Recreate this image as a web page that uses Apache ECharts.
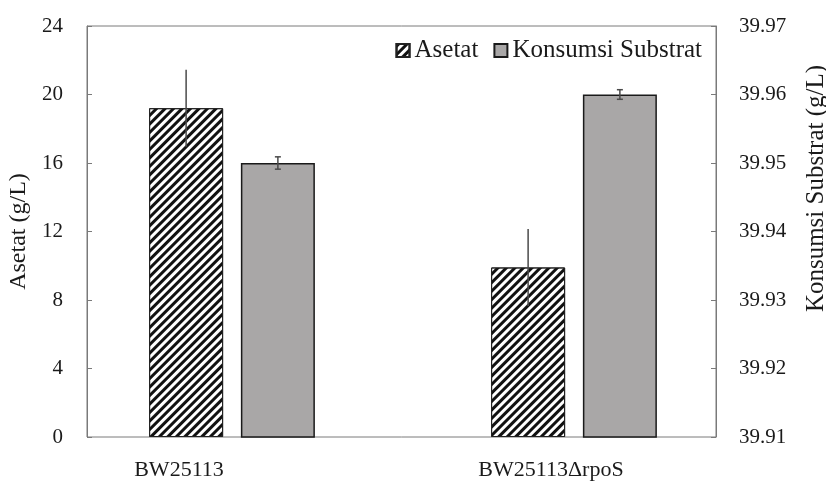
<!DOCTYPE html>
<html>
<head>
<meta charset="utf-8">
<script src="https://cdn.jsdelivr.net/npm/echarts@6/dist/echarts.min.js"></script>
<style>html,body{margin:0;padding:0;background:#fff}#c{width:826px;height:481px}</style>
</head>
<body>
<div id="c"></div>
<script>
const categories = ['BW25113', 'BW25113\u0394rpoS'];
const seriesNames = ['Asetat', 'Konsumsi Substrat'];
const asetat = [19.2, 9.9];
const asetatErr = [2.25, 2.25];
const konsumsi = [39.95, 39.96];
const konsumsiErr = [0.0009, 0.0007];
const leftAxis = { min: 0, max: 24, interval: 4 };
const rightAxis = { min: 39.91, max: 39.97, interval: 0.01 };

const FONT = 'Liberation Serif';
const BAR_W = 74;
const GAP_RATIO = 0.24;
const PLOT_TOP = 26, PLOT_BOTTOM = 44;

function errData(vals, errs) {
  return vals.map((v, i) => [i, v - errs[i], v + errs[i]]);
}
function errRender(sign, cap) {
  return function (params, api) {
    const i = api.value(0);
    const top = api.coord([i, api.value(2)]);
    const bot = api.coord([i, api.value(1)]);
    const x = top[0] + sign * (BAR_W + BAR_W * GAP_RATIO) / 2;
    const style = { stroke: '#4a4a4a', lineWidth: 1.5 };
    const children = [{ type: 'line', shape: { x1: x, y1: top[1], x2: x, y2: bot[1] }, style }];
    if (cap > 0) {
      children.push({ type: 'line', shape: { x1: x - cap / 2, y1: top[1], x2: x + cap / 2, y2: top[1] }, style });
      children.push({ type: 'line', shape: { x1: x - cap / 2, y1: bot[1], x2: x + cap / 2, y2: bot[1] }, style });
    }
    return { type: 'group', children };
  };
}
const hiddenAxis = { axisLine: { show: false }, axisTick: { show: false }, axisLabel: { show: false }, splitLine: { show: false } };

const chart = echarts.init(document.getElementById('c'));
chart.setOption({
  backgroundColor: '#fff',
  animation: false,
  textStyle: { fontFamily: FONT },
  legend: {
    data: seriesNames,
    right: 119, top: 33,
    itemWidth: 13, itemHeight: 13, itemGap: 15,
    icon: 'rect',
    textStyle: { fontFamily: FONT, fontSize: 25, color: '#1a1a1a' }
  },
  grid: [
    { left: 87, right: 110, top: PLOT_TOP, bottom: PLOT_BOTTOM, show: true, borderColor: '#7a7a7a', borderWidth: 1, outerBoundsMode: 'none' },
    { left: -7, right: 89, top: PLOT_TOP, bottom: PLOT_BOTTOM, outerBoundsMode: 'none' },
    { left: 61, right: 81, top: PLOT_TOP, bottom: PLOT_BOTTOM, outerBoundsMode: 'none' }
  ],
  xAxis: [
    Object.assign({ type: 'category', gridIndex: 0, data: categories }, hiddenAxis),
    { type: 'category', gridIndex: 1, data: categories,
      axisLine: { show: false }, axisTick: { show: false },
      axisLabel: { interval: 0, margin: 22, fontFamily: FONT, fontSize: 22, color: '#1a1a1a' } },
    Object.assign({ type: 'category', gridIndex: 2, data: categories }, hiddenAxis)
  ],
  yAxis: [
    { type: 'value', gridIndex: 0, position: 'left', min: leftAxis.min, max: leftAxis.max, interval: leftAxis.interval,
      name: 'Asetat (g/L)', nameLocation: 'middle', nameGap: 53,
      nameTextStyle: { fontFamily: FONT, fontSize: 24, color: '#1a1a1a' },
      axisLine: { show: true, lineStyle: { color: '#7a7a7a' } },
      axisTick: { show: true, inside: true, length: 5, lineStyle: { color: '#7a7a7a' } },
      axisLabel: { margin: 24, fontFamily: FONT, fontSize: 21, color: '#1a1a1a' },
      splitLine: { show: false } },
    { type: 'value', gridIndex: 0, position: 'right', min: rightAxis.min, max: rightAxis.max, interval: rightAxis.interval,
      name: 'Konsumsi Substrat (g/L)', nameLocation: 'middle', nameGap: 88,
      nameTextStyle: { fontFamily: FONT, fontSize: 25, color: '#1a1a1a', padding: [0, 0, 0, 86] },
      axisLine: { show: true, lineStyle: { color: '#7a7a7a' } },
      axisTick: { show: true, inside: true, length: 5, lineStyle: { color: '#7a7a7a' } },
      axisLabel: { margin: 23, fontFamily: FONT, fontSize: 21, color: '#1a1a1a', formatter: v => v.toFixed(2) },
      splitLine: { show: false } },
    Object.assign({ type: 'value', gridIndex: 1, min: leftAxis.min, max: leftAxis.max, interval: leftAxis.interval }, hiddenAxis),
    Object.assign({ type: 'value', gridIndex: 2, min: leftAxis.min, max: leftAxis.max, interval: leftAxis.interval }, hiddenAxis),
    Object.assign({ type: 'value', gridIndex: 2, min: rightAxis.min, max: rightAxis.max, interval: rightAxis.interval }, hiddenAxis)
  ],
  series: [
    { name: seriesNames[0], type: 'bar', xAxisIndex: 2, yAxisIndex: 3, data: asetat,
      barWidth: BAR_W, barGap: (GAP_RATIO * 100) + '%',
      itemStyle: { color: '#ffffff', borderColor: '#222', borderWidth: 1,
        decal: { symbol: 'rect', symbolSize: 1, dashArrayX: [1, 0], dashArrayY: [2.2, 2.6], rotation: -Math.PI / 4, color: '#111' } } },
    { name: seriesNames[1], type: 'bar', xAxisIndex: 2, yAxisIndex: 4, data: konsumsi,
      barWidth: BAR_W, barGap: (GAP_RATIO * 100) + '%',
      itemStyle: { color: '#a9a7a7', borderColor: '#1a1a1a', borderWidth: 1.5 } },
    { type: 'custom', xAxisIndex: 2, yAxisIndex: 3, data: errData(asetat, asetatErr),
      renderItem: errRender(-1, 0), z: 10, silent: true },
    { type: 'custom', xAxisIndex: 2, yAxisIndex: 4, data: errData(konsumsi, konsumsiErr),
      renderItem: errRender(1, 6), z: 10, silent: true }
  ]
});
</script>
</body>
</html>
